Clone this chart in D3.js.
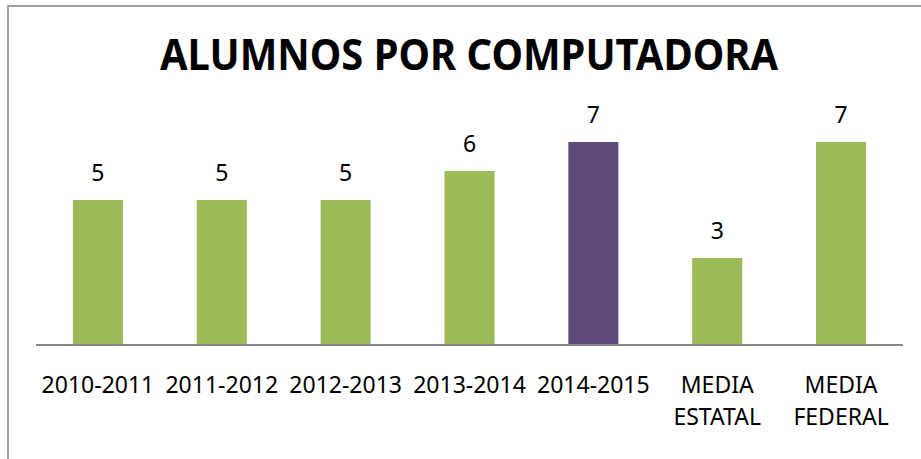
<!DOCTYPE html>
<html>
<head>
<meta charset="utf-8">
<script src="https://cdn.jsdelivr.net/npm/d3@7"></script>
<style>
  body { margin: 0; background: #fff; }
  svg { display: block; font-family: "Noto Sans", "Open Sans", sans-serif; }
</style>
</head>
<body>
<div id="container"></div>
<script>
const categories = ["2010-2011", "2011-2012", "2012-2013", "2013-2014", "2014-2015", "MEDIA ESTATAL", "MEDIA FEDERAL"]
const values = [5, 5, 5, 6, 7, 3, 7]
const highlight = "2014-2015"
const title = "ALUMNOS POR COMPUTADORA"

const width = 921, height = 459
const plot = { left: 36, right: 903, bottom: 345 }

const svg = d3.select("#container").append("svg")
    .attr("width", width)
    .attr("height", height)

// chart frame (only left and top edges are visible)
svg.append("rect")
    .attr("x", 8).attr("y", 6)
    .attr("width", 940).attr("height", 480)
    .attr("fill", "none")
    .attr("stroke", "#a0a0a0")
    .attr("stroke-width", 2)

svg.append("text")
    .attr("x", 469).attr("y", 70)
    .attr("text-anchor", "middle")
    .attr("font-size", 43)
    .attr("font-weight", "bold")
    .attr("textLength", 618)
    .attr("lengthAdjust", "spacingAndGlyphs")
    .attr("fill", "#000")
    .text(title)

const x = d3.scaleBand()
    .domain(categories)
    .range([plot.left, plot.right])
    .paddingInner(0.596)
    .paddingOuter(0.298)

const y = d3.scaleLinear()
    .domain([0, 8])
    .range([plot.bottom, plot.bottom - 8 * 29])

svg.selectAll(".bar")
    .data(categories)
    .enter().append("rect")
    .attr("class", "bar")
    .attr("x", d => x(d))
    .attr("width", x.bandwidth())
    .attr("y", (d, i) => y(values[i]))
    .attr("height", (d, i) => y(0) - y(values[i]))
    .attr("fill", d => d === highlight ? "#604a7b" : "#9bbb59")

svg.selectAll(".value")
    .data(categories)
    .enter().append("text")
    .attr("class", "value")
    .attr("x", d => x(d) + x.bandwidth() / 2)
    .attr("y", (d, i) => y(values[i]) - 19)
    .attr("text-anchor", "middle")
    .attr("font-size", 23)
    .attr("fill", "#000")
    .text((d, i) => values[i])

// axis
const axis = svg.append("g")
    .attr("transform", "translate(0," + plot.bottom + ")")
    .call(d3.axisBottom(x).tickSize(0).tickPadding(0))

axis.select(".domain")
    .attr("d", "M" + plot.left + ",0H" + plot.right)
    .attr("stroke", "#868686")
    .attr("stroke-width", 2)

axis.selectAll(".tick text").remove()
axis.selectAll(".tick").each(function (d) {
    const words = d.split(" ")
    const t = d3.select(this).append("text")
        .attr("fill", "#000")
        .attr("font-size", 23)
        .attr("font-family", "Noto Sans, Open Sans, sans-serif")
        .attr("text-anchor", "middle")
    words.forEach((w, i) => {
        t.append("tspan")
            .attr("x", 0)
            .attr("y", 48 + i * 32)
            .text(w)
    })
})
</script>
</body>
</html>
